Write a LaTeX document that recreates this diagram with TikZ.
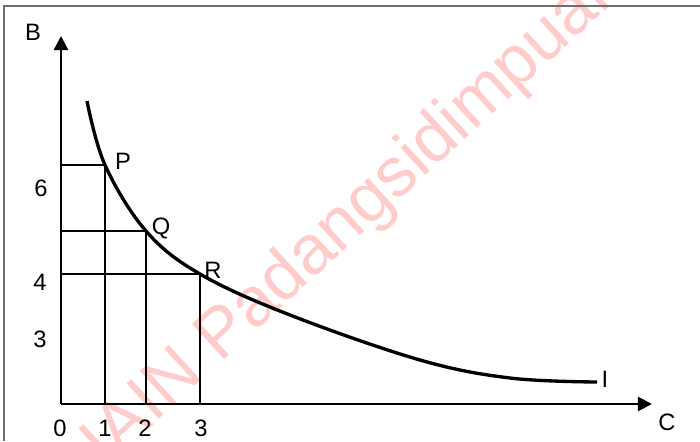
\documentclass[tikz,border=0pt]{standalone}
\usepackage{fontspec}
\setmainfont{Liberation Sans}
\usetikzlibrary{arrows.meta, positioning}
\definecolor{framegray}{RGB}{110,110,110}
\definecolor{wmpink}{RGB}{255,204,204}
\tikzset{
  axx/.style     = {-{Triangle[length=8pt,width=8pt]}, line width=1.4pt, black},
  dropln/.style  = {line width=1.3pt, black},
  icurve/.style  = {line width=1.9pt, black},
  lbl/.style     = {font=\fontsize{13.5}{16}\selectfont, inner sep=0pt},
  framel/.style  = {framegray, line width=0.8pt},
  wmark/.style   = {wmpink, rotate=42.5, font=\fontsize{39.5}{40}\selectfont, inner sep=0pt},
}

\begin{document}
\begin{tikzpicture}
\useasboundingbox (0,0) rectangle (14,8.82);

% watermark
\node[wmark] (wm) at (7.12,4.52) {IAIN Padangsidimpuan};

% frame
\draw[framel] (0.08,0) -- (0.08,8.70) -- (14,8.70);

% axes
\coordinate (O) at (1.22,0.74);
\coordinate (ytip) at (1.22,8.10);
\coordinate (xtip) at (13.04,0.74);
\draw[axx] (O) -- (ytip);
\draw[axx] (O) -- (xtip);
\node[lbl] (lB) at (0.66,8.18) {B};
\node[lbl] (lC) at (13.34,0.38) {C};

% points on the curve
\coordinate (P) at (2.10,5.52);
\coordinate (Q) at (2.92,4.20);
\coordinate (R) at (4.00,3.34);
\coordinate (Iend) at (11.94,1.18);

% drop lines
\draw[dropln] (O |- P) -- (P) -- (P |- O);
\draw[dropln] (O |- Q) -- (Q) -- (Q |- O);
\draw[dropln] (O |- R) -- (R) -- (R |- O);

% indifference curve
\draw[icurve] plot[smooth, tension=0.6] coordinates {(1.74,6.80) (P) (Q) (R) (5.80,2.52) (8.40,1.62) (10.20,1.26) (Iend)};
\node[lbl] (lP) at (2.46,5.60) {P};
\node[lbl] (lQ) at (3.22,4.26) {Q};
\node[lbl] (lR) at (4.26,3.42) {R};
\node[lbl] (lI) at (12.10,1.24) {I};

% tick labels
\node[lbl] (x0) at (1.20,0.26) {0};
\node[lbl] (x1) at (2.10,0.26) {1};
\node[lbl] (x2) at (2.90,0.26) {2};
\node[lbl] (x3) at (4.02,0.26) {3};
\node[lbl] (y6) at (0.82,5.06) {6};
\node[lbl] (y4) at (0.80,3.18) {4};
\node[lbl] (y3) at (0.80,2.04) {3};

\end{tikzpicture}
\end{document}
